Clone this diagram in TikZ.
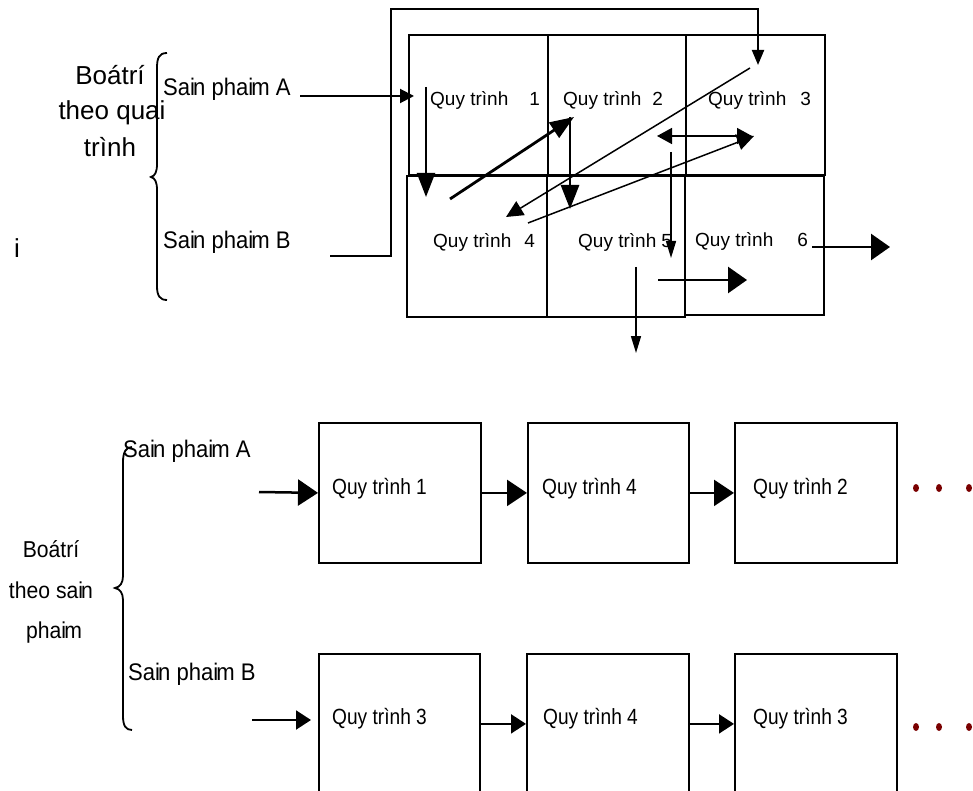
\documentclass[tikz,border=0pt]{standalone}
\usepackage{fontspec}
\setmainfont{Liberation Sans}
\newfontfamily\nfont[FakeStretch=0.87]{Liberation Sans}
\newfontfamily\wfont[FakeStretch=0.92]{Liberation Sans}
\usetikzlibrary{arrows.meta,shapes.geometric}
\definecolor{dotred}{HTML}{7A0000}
\newcommand{\qtr}[2]{Quy trình\hspace{#1pt}#2}
\newcommand{\sain}{Sai\kern-0.08em n}
\newcommand{\lsain}{sai\kern-0.08em n}
\newcommand{\phaim}{phai\kern-0.08em m}
\begin{document}
\begin{tikzpicture}[x=1pt,y=-1pt,
  cell/.style={draw, line width=1.8pt, inner sep=0pt, anchor=north west},
  lab/.style={anchor=base west, inner sep=0pt, font=\fontsize{19}{22}\selectfont},
  blab/.style={anchor=base west, inner sep=0pt, font=\nfont\fontsize{22}{25}\selectfont},
  big/.style={anchor=base, inner sep=0pt, font=\fontsize{26}{30}\selectfont},
  bigw/.style={anchor=base west, inner sep=0pt, font=\wfont\fontsize{24}{28}\selectfont},
  mid/.style={anchor=base, inner sep=0pt, font=\wfont\fontsize{23}{27}\selectfont},
  dot/.style={ellipse, fill=dotred, inner sep=0pt, minimum width=6pt, minimum height=8pt},
  thickarr/.style={line width=2.8pt, -{Triangle[length=24pt,width=18pt]}},
  medarr/.style={line width=2pt, -{Triangle[length=14pt,width=14pt]}},
  thinarr/.style={line width=1.5pt, -{Triangle[length=17pt,width=16pt]}},
  slimdown/.style={line width=1.5pt, -{Triangle[length=17pt,width=10pt]}},
  rarr/.style={line width=2.8pt, -{Triangle[length=19pt,width=26pt]}},
  aarr/.style={line width=2.5pt, -{Triangle[length=20pt,width=26pt]}},
  barr/.style={line width=2pt, -{Triangle[length=15pt,width=19pt]}},
  brace/.style={line width=1.8pt}
]
\useasboundingbox (0,0) rectangle (973,791);

% ---------- top: process layout ----------
\node[cell, minimum width=139pt, minimum height=140pt] (p1) at (408,34) {};
\node[cell, minimum width=138pt, minimum height=140pt] (p2) at (547,34) {};
\node[cell, minimum width=139pt, minimum height=140pt] (p3) at (685,34) {};
\node[cell, minimum width=140pt, minimum height=141pt] (p4) at (406,175) {};
\node[cell, minimum width=138pt, minimum height=141pt] (p5) at (546,175) {};
\node[cell, minimum width=139pt, minimum height=139pt] (p6) at (684,175) {};

\node[lab] (t1) at (430,106) {\qtr{21}{1}};
\node[lab] (t2) at (563,106) {\qtr{11}{2}};
\node[lab] (t3) at (708,106) {\qtr{14}{3}};
\node[lab] (t4) at (433,248) {\qtr{13}{4}};
\node[lab] (t5) at (578,248) {\qtr{5}{5}};
\node[lab] (t6) at (695,247) {\qtr{24}{6}};

% left labels (top)
\node[big] (bt1) at (110,85) {Boátrí};
\node[big] (bt2) at (112,120) {theo quai};
\node[big] (bt3) at (110,157) {trình};
\node[bigw] (spa) at (163,96) {\sain\ \phaim\ A};
\node[bigw] (spb) at (163,249) {\sain\ \phaim\ B};
\node[big] (stray) at (17,258) {i};

\draw[brace] (167,53) .. controls (159,53) and (157,58) .. (157,68) -- (157,164)
  .. controls (157,172) and (155,176) .. (151,177)
  .. controls (155,178) and (157,182) .. (157,190) -- (157,286)
  .. controls (157,296) and (160,300) .. (167,300);

% arrows (top)
\coordinate (ia) at (300,96);
\coordinate (iae) at (414,96);
\draw[medarr] (ia) -- (iae);

\coordinate (fbA) at (330,256);
\coordinate (fbT) at (391,9);
\coordinate (fbB) at (758,65);
\draw[line width=2pt, -{Triangle[length=15pt,width=12pt]}] (fbA) -| (fbT) -| (fbB);

\coordinate (d1s) at (426,87);
\coordinate (d1e) at (426,197);
\draw[line width=2.2pt, -{Triangle[length=24pt,width=18pt]}] (d1s) -- (d1e);

\coordinate (g1s) at (450,199);
\coordinate (g1e) at (574,117);
\draw[thickarr] (g1s) -- (g1e);

\coordinate (d2s) at (570,117);
\coordinate (d2e) at (570,209);
\draw[thickarr] (d2s) -- (d2e);

\coordinate (g2s) at (750,68);
\coordinate (g2e) at (506,217);
\draw[thinarr] (g2s) -- (g2e);

\coordinate (g3s) at (528,223);
\coordinate (g3e) at (754,136);
\draw[thinarr] (g3s) -- (g3e);

\coordinate (hL) at (657,136);
\coordinate (hR) at (752,136);
\draw[line width=1.5pt, {Triangle[length=15pt,width=16pt]}-{Triangle[length=15pt,width=16pt]}] (hL) -- (hR);

\coordinate (d3s) at (671,152);
\coordinate (d3e) at (671,258);
\draw[slimdown] (d3s) -- (d3e);

\coordinate (d4s) at (636,267);
\coordinate (d4e) at (636,353);
\draw[slimdown] (d4s) -- (d4e);

\coordinate (r1s) at (658,280);
\coordinate (r1e) at (747,280);
\draw[rarr] (r1s) -- (r1e);

\coordinate (r2s) at (812,247);
\coordinate (r2e) at (890,247);
\draw[rarr] (r2s) -- (r2e);

% ---------- bottom: product layout ----------
\node[cell, minimum width=162pt, minimum height=140pt] (a1) at (318,422) {};
\node[cell, minimum width=161pt, minimum height=140pt] (a2) at (527,422) {};
\node[cell, minimum width=162pt, minimum height=140pt] (a3) at (734,422) {};
\node[cell, minimum width=161pt, minimum height=140pt] (b1) at (318,653) {};
\node[cell, minimum width=162pt, minimum height=140pt] (b2) at (526,653) {};
\node[cell, minimum width=162pt, minimum height=140pt] (b3) at (734,653) {};

\node[blab] (ta1) at (332,494) {Quy trình 1};
\node[blab] (ta2) at (542,494) {Quy trình 4};
\node[blab] (ta3) at (753,494) {Quy trình 2};
\node[blab] (tb1) at (332,724) {Quy trình 3};
\node[blab] (tb2) at (543,724) {Quy trình 4};
\node[blab] (tb3) at (753,724) {Quy trình 3};

\coordinate (ina) at (259,492);
\draw[aarr] (ina) -- (a1.west);
\draw[aarr] (a1.east) -- (a2.west);
\draw[aarr] (a2.east) -- (a3.west);

\coordinate (inb) at (252,720);
\coordinate (inbe) at (311,720);
\draw[barr] (inb) -- (inbe);
\draw[barr] (b1.east) -- (b2.west);
\draw[barr] (b2.east) -- (b3.west);

\node[dot] (da1) at (916,488) {};
\node[dot] (da2) at (939,488) {};
\node[dot] (da3) at (969,488) {};
\node[dot] (db1) at (916,727) {};
\node[dot] (db2) at (939,727) {};
\node[dot] (db3) at (969,727) {};

% left labels (bottom)
\node[bigw] (spa2) at (123,457) {\sain\ \phaim\ A};
\node[bigw] (spb2) at (128,680) {\sain\ \phaim\ B};
\node[mid] (bb1) at (51,557) {Boátrí};
\node[mid] (bb2) at (51,598) {theo \lsain};
\node[mid] (bb3) at (54,638) {\phaim};

\draw[brace] (132,447) .. controls (126,447) and (123,452) .. (123,462) -- (123,576)
  .. controls (123,583) and (120,587) .. (115,588)
  .. controls (120,589) and (123,593) .. (123,600) -- (123,716)
  .. controls (123,726) and (126,730) .. (132,730);
\end{tikzpicture}
\end{document}
